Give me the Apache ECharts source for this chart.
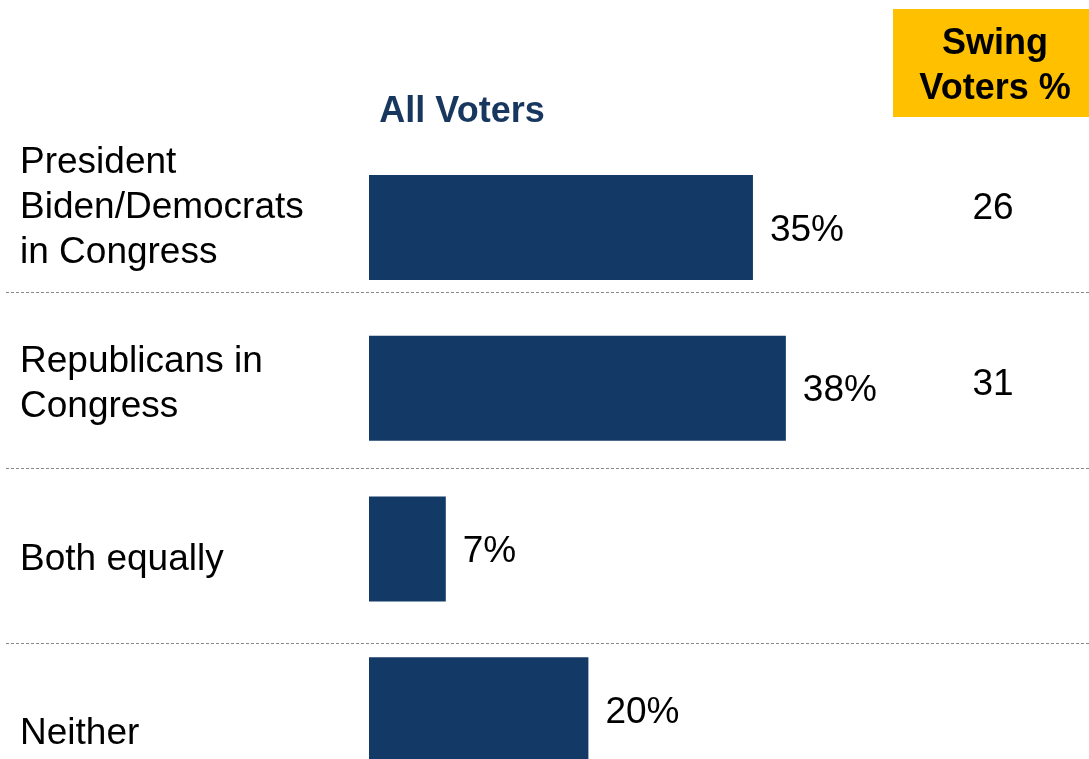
<!DOCTYPE html>
<html>
<head>
<meta charset="utf-8">
<script src="https://cdn.jsdelivr.net/npm/echarts@6/dist/echarts.min.js"></script>
<style>
html,body{margin:0;padding:0;background:#fff;}
#chart{width:1089px;height:759px;}
</style>
</head>
<body>
<div id="chart"></div>
<script>
var categories = ['President\nBiden/Democrats\nin Congress', 'Republicans in\nCongress', 'Both equally', 'Neither'];
var allVoters = [35, 38, 7, 20];
var swingVoters = ['26', '31', '', ''];
var labelCenters = [208, 384, 560, 734];
var separatorsY = [292, 468, 643];

var FONT = 'Arial, "Liberation Sans", sans-serif';
var chart = echarts.init(document.getElementById('chart'));

var graphics = [];
categories.forEach(function (c, i) {
  graphics.push({
    type: 'text', x: 20, y: labelCenters[i],
    style: { text: c, fontFamily: FONT, fontSize: 37, fill: '#000', lineHeight: 45, verticalAlign: 'middle', align: 'left' }
  });
  if (swingVoters[i]) {
    graphics.push({
      type: 'text', x: 993, y: labelCenters[i] + 1,
      style: { text: swingVoters[i], fontFamily: FONT, fontSize: 37, fill: '#000', align: 'center', verticalAlign: 'middle' }
    });
  }
});
separatorsY.forEach(function (y) {
  graphics.push({
    type: 'line', shape: { x1: 6, y1: y + 0.5, x2: 1089, y2: y + 0.5 },
    style: { stroke: '#8a8a8a', lineWidth: 1, lineDash: [3, 2] }
  });
});
graphics.push({
  type: 'rect', shape: { x: 893, y: 9, width: 196, height: 108 },
  style: { fill: '#FFC000' }
});
graphics.push({
  type: 'text', x: 995, y: 67,
  style: { text: 'Swing\nVoters %', fontFamily: FONT, fontSize: 36, fontWeight: 'bold', fill: '#000', align: 'center', verticalAlign: 'middle', lineHeight: 45 }
});
graphics.push({
  type: 'text', x: 462, y: 112,
  style: { text: 'All Voters', fontFamily: FONT, fontSize: 36, fontWeight: 'bold', fill: '#17375E', align: 'center', verticalAlign: 'middle' }
});

chart.setOption({
  animation: false,
  backgroundColor: '#fff',
  grid: { left: 369, top: 147, width: 658.2, height: 643, outerBoundsMode: 'none', containLabel: false },
  xAxis: { type: 'value', min: 0, max: 60, show: false },
  yAxis: {
    type: 'category', data: categories, inverse: true,
    axisLine: { show: false }, axisTick: { show: false }, axisLabel: { show: false }, splitLine: { show: false }
  },
  series: [{
    type: 'bar', data: allVoters, barWidth: 105,
    itemStyle: { color: '#133A66' },
    label: {
      show: true, position: 'right', distance: 17, offset: [0, 3],
      formatter: '{c}%', fontFamily: FONT, fontSize: 37, color: '#000'
    }
  }],
  graphic: graphics
});
</script>
</body>
</html>
